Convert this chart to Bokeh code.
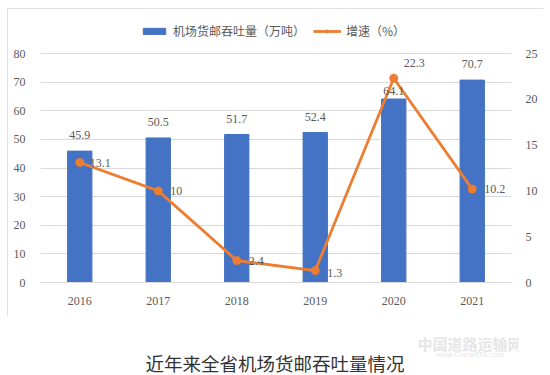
from bokeh.plotting import figure
from bokeh.layouts import column
from bokeh.models import (Range1d, LinearAxis, ColumnDataSource, LabelSet, Label,
                          Legend, LegendItem, FixedTicker)
from bokeh.core.properties import value
from bokeh.embed import file_html
from bokeh.resources import INLINE

years = ["2016", "2017", "2018", "2019", "2020", "2021"]
cargo = [45.9, 50.5, 51.7, 52.4, 64.1, 70.7]
growth = [13.1, 10, 2.4, 1.3, 22.3, 10.2]
left_ticks = [0, 10, 20, 30, 40, 50, 60, 70, 80]
right_ticks = [0, 5, 10, 15, 20, 25]
bar_name = "机场货邮吞吐量（万吨）"
line_name = "增速（%）"
caption = "近年来全省机场货邮吞吐量情况"
watermark = "中国道路运输网"
watermark_url = "www.ChinaRTA.com"

# label placement (styles)
bar_label_dy = [12, 12, 12, 12, 4, 12]
line_label_dx = [10, 12, 12, 12, 10, 12]
line_label_dy = [0, 0, 0, -2, 15, 0]

BLUE = "#4472C4"
ORANGE = "#ED7D31"
GRID = "#D9D9D9"
TXT = "#595959"
SERIF = "Liberation Serif"
CJK = "Noto Sans CJK SC"

# layout: frame 470 x 270 px, axis 0..80 occupies the lower 229 px (room for the legend on top)
FRAME_H = 270
AXIS_H = 229
head = FRAME_H / AXIS_H

src = ColumnDataSource(dict(
    year=years, cargo=cargo, growth=growth,
    cargo_txt=[f"{v:g}" for v in cargo], growth_txt=[f"{v:g}" for v in growth],
    bdy=bar_label_dy, ldx=line_label_dx, ldy=line_label_dy,
))

p = figure(width=536, height=308, x_range=years,
           y_range=Range1d(0, left_ticks[-1] * head),
           output_backend="svg", toolbar_location=None,
           min_border_left=33, min_border_right=32, min_border_top=4, min_border_bottom=34,
           margin=(8, 7, 0, 7))
p.styles = {"outline": "1px solid #D9D9D9", "outline-offset": "-1px"}
p.extra_y_ranges = {"pct": Range1d(0, right_ticks[-1] * head)}
p.outline_line_color = None
p.background_fill_color = "white"
p.border_fill_color = "white"

p.yaxis.ticker = FixedTicker(ticks=left_ticks)
p.ygrid.ticker = FixedTicker(ticks=left_ticks)
p.ygrid.grid_line_color = GRID
p.xgrid.grid_line_color = None

for ax in p.yaxis:
    ax.axis_line_color = None
    ax.major_tick_line_color = None
    ax.minor_tick_line_color = None
    ax.major_label_text_font = SERIF
    ax.major_label_text_font_size = "12px"
    ax.major_label_text_color = TXT
    ax.major_label_standoff = 9

rax = LinearAxis(y_range_name="pct", ticker=FixedTicker(ticks=right_ticks))
rax.axis_line_color = None
rax.major_tick_line_color = None
rax.minor_tick_line_color = None
rax.major_label_text_font = SERIF
rax.major_label_text_font_size = "12px"
rax.major_label_text_color = TXT
rax.major_label_standoff = 8
p.add_layout(rax, "right")

xa = p.xaxis[0]
xa.axis_line_color = GRID
xa.major_tick_line_color = None
xa.minor_tick_line_color = None
xa.major_label_text_font = SERIF
xa.major_label_text_font_size = "12px"
xa.major_label_text_color = TXT
xa.major_label_standoff = 8

bars = p.vbar(x="year", top="cargo", width=0.31, source=src, color=BLUE)
line = p.line(x="year", y="growth", source=src, y_range_name="pct", color=ORANGE, line_width=2.8)
dots = p.scatter(x="year", y="growth", source=src, y_range_name="pct", color=ORANGE, size=8)

bl = LabelSet(x="year", y="cargo", text="cargo_txt", source=src, y_offset="bdy",
              text_align="center", text_baseline="bottom",
              text_font=value(SERIF), text_font_size="12px", text_color=TXT)
ll = LabelSet(x="year", y="growth", text="growth_txt", source=src, y_range_name="pct",
              x_offset="ldx", y_offset="ldy", text_align="left", text_baseline="middle",
              text_font=value(SERIF), text_font_size="12px", text_color=TXT)
p.add_layout(bl)
p.add_layout(ll)

legend = Legend(items=[LegendItem(label=bar_name, renderers=[bars]),
                       LegendItem(label=line_name, renderers=[line, dots])],
                orientation="horizontal", location=(100, 243))
legend.label_text_font = CJK
legend.label_text_font_size = "12px"
legend.label_text_color = TXT
legend.glyph_width = 28
legend.glyph_height = 8
legend.label_standoff = 5
legend.spacing = 8
legend.padding = 0
legend.margin = 0
legend.border_line_color = None
legend.background_fill_alpha = 0
p.add_layout(legend, "center")

# caption strip below the chart box
c = figure(width=550, height=59, x_range=Range1d(0, 550), y_range=Range1d(0, 59),
           output_backend="svg", toolbar_location=None,
           min_border=0, min_border_left=0, min_border_right=0,
           min_border_top=0, min_border_bottom=0)
c.axis.visible = False
c.grid.visible = False
c.outline_line_color = None
c.background_fill_color = "white"
c.border_fill_color = "white"

c.add_layout(Label(x=274, y=13, text=caption, text_align="center", text_baseline="middle",
                   text_font=CJK, text_font_size="18.5px", text_color="#333333"))
c.add_layout(Label(x=495, y=32, text=watermark, text_align="center", text_baseline="middle",
                   text_font=CJK, text_font_size="15px", text_font_style="bold",
                   text_color="#E6E6E6"))
c.add_layout(Label(x=495, y=21, text=watermark_url, text_align="center", text_baseline="middle",
                   text_font="DejaVu Sans", text_font_size="7px", text_color="#E6E6E6"))

layout = column(p, c, spacing=0)
open("out.html", "w").write(file_html(layout, INLINE))
